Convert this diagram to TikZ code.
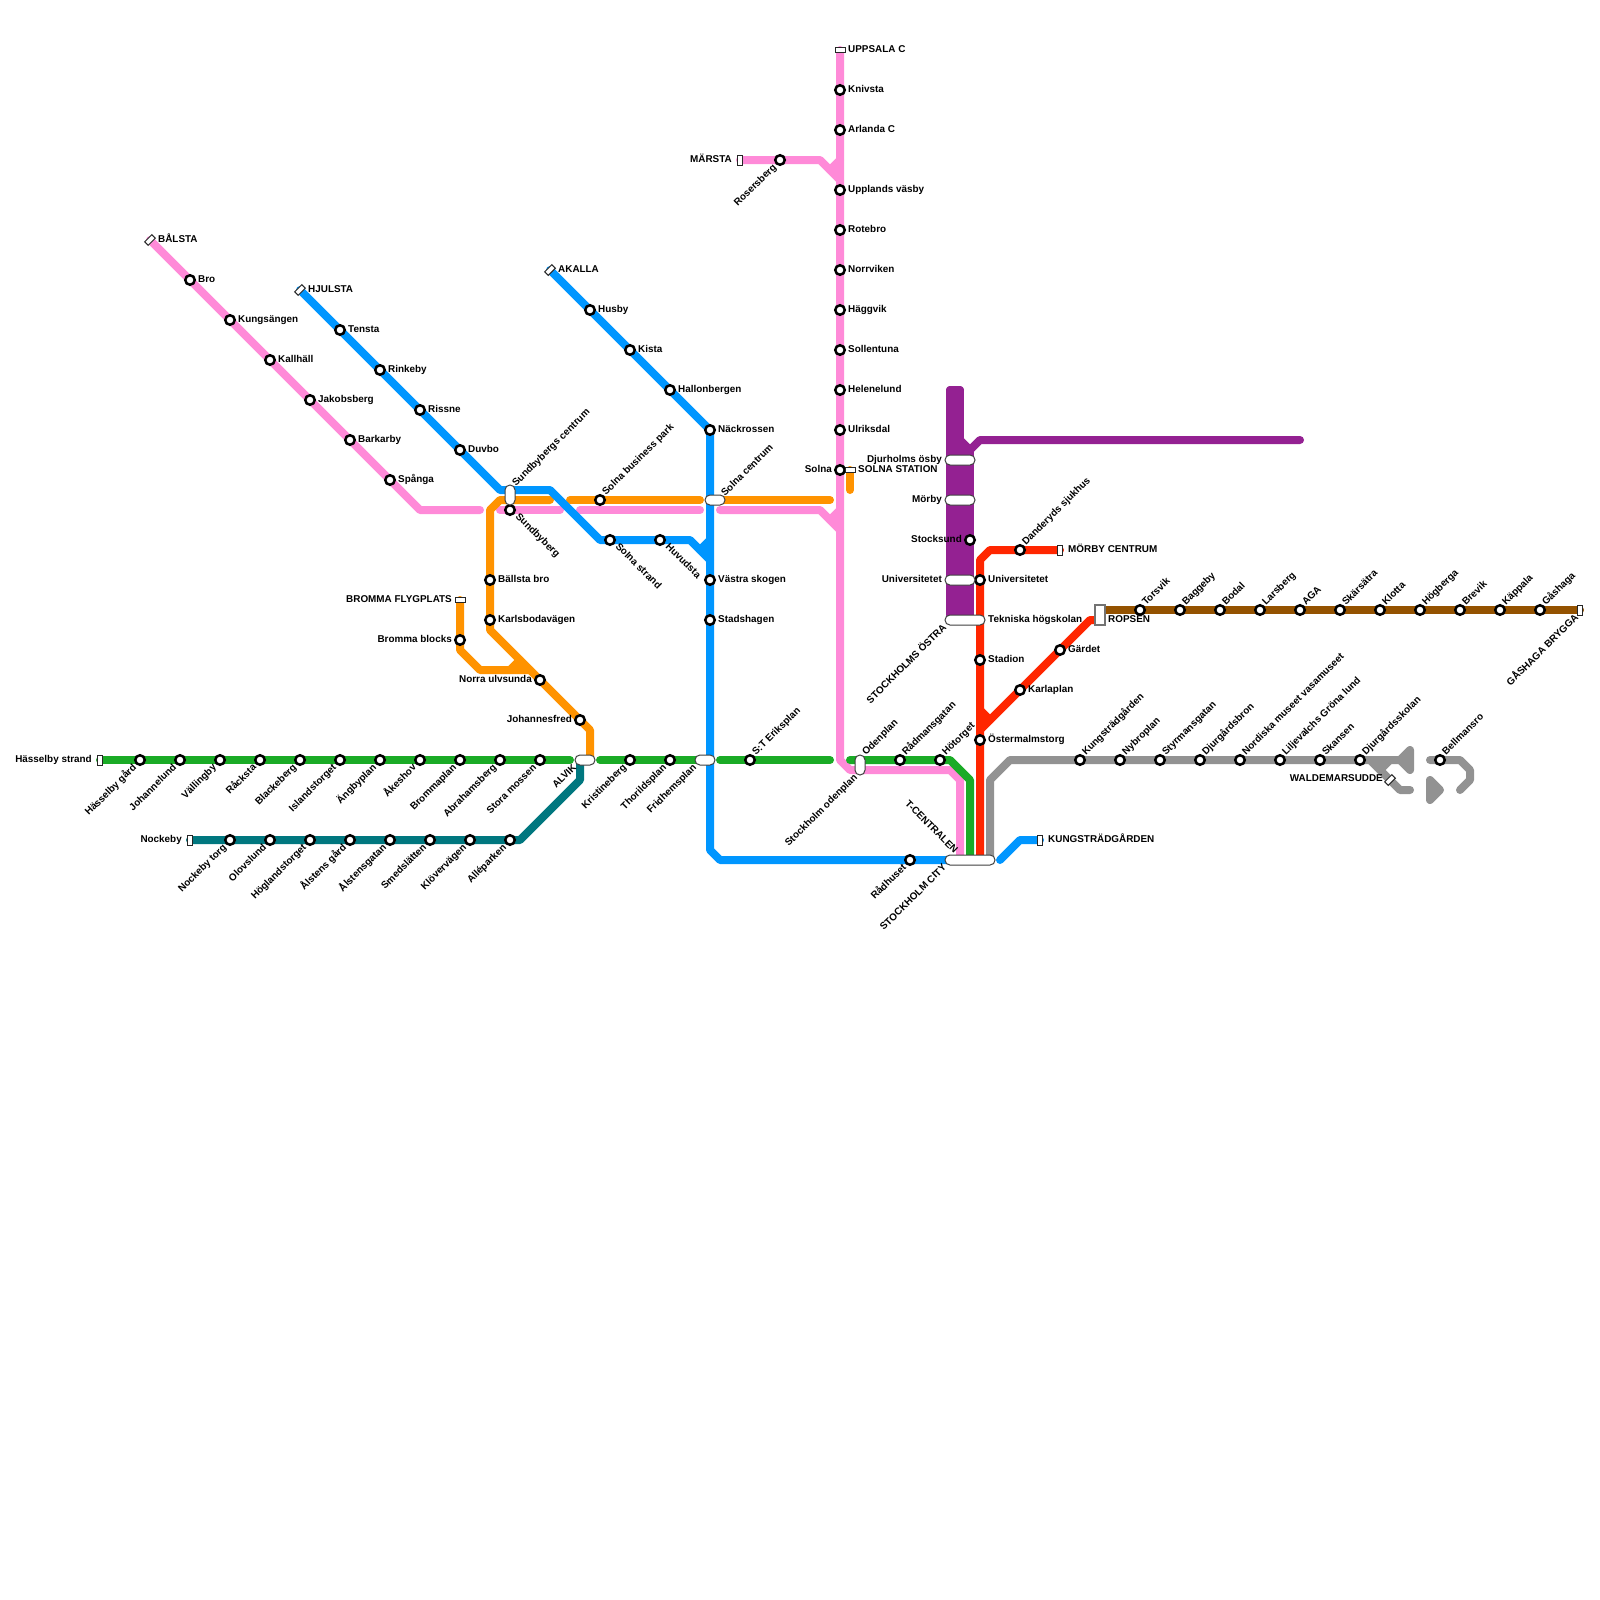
\documentclass[tikz,border=0pt]{standalone}
\usepackage{fontspec}
\newfontfamily\mapfont{Liberation Sans}
\usetikzlibrary{calc}
\pgfdeclarelayer{bg}\pgfsetlayers{bg,main}
\definecolor{cpink}{HTML}{FF8AD8}
\definecolor{cblue}{HTML}{0096FF}
\definecolor{corange}{HTML}{FF9300}
\definecolor{cgreen}{HTML}{1AAB26}
\definecolor{cteal}{HTML}{00777F}
\definecolor{cplum}{HTML}{942192}
\definecolor{cred}{HTML}{FF2600}
\definecolor{cgray}{HTML}{929292}
\definecolor{cbrown}{HTML}{945200}
\tikzset{
  trk/.style={line width=8pt,line cap=round,line join=round},
  stn/.style={circle,draw=black,fill=white,line width=2.5pt,minimum size=9.5pt,inner sep=0pt},
  ich/.style={rectangle,rounded corners=4.9pt,draw=black!75,fill=white,line width=1pt,inner sep=0pt},
  wide/.style={minimum width=#1pt,minimum height=10pt},
  tall/.style={minimum width=10pt,minimum height=#1pt},
  term/.style={rectangle,draw=black!85,fill=white,line width=1pt,inner sep=0pt},
  termV/.style={term,minimum width=5pt,minimum height=10pt},
  termH/.style={term,minimum width=10pt,minimum height=5pt},
  termD/.style={term,minimum width=10pt,minimum height=5pt,rotate=45},
  txt/.style={inner sep=0pt,text height=7.5pt,text depth=2pt,font=\mapfont\bfseries\fontsize{9.9}{12}\selectfont,text=black},
  lbR/.style={txt,anchor=west},
  lbL/.style={txt,anchor=east},
  lbU/.style={txt,rotate=45,anchor=west},
  lbD/.style={txt,rotate=45,anchor=east},
  lbE/.style={txt,rotate=-45,anchor=west},
  lbW/.style={txt,rotate=-45,anchor=east},
  shR/.style={xshift=8pt,yshift=0.3pt},
  shL/.style={xshift=-8pt,yshift=0.3pt},
  shU/.style={xshift=4pt,yshift=6pt},
  shD/.style={xshift=-5pt,yshift=-6pt},
  shE/.style={xshift=7pt,yshift=-5pt},
  shW/.style={xshift=-7pt,yshift=5pt},
}
\newcommand\St[5]{\node[stn] (#1) at (#2,#3) {}; \node[sh#4,lb#4] (#1-l) at (#1.center) {#5};}
\newcommand\Tm[6]{\node[term#4] (#1) at (#2,#3) {}; \node[sh#5,lb#5] (#1-l) at (#1.center) {#6};}
\newcommand\Lb[5]{\node[lb#4] (#1) at (#2,#3) {#5};}
\begin{document}
\begin{tikzpicture}[x=1pt,y=-1pt]
\useasboundingbox (0,0) rectangle (1600,1600);

% ---- stations: green
\Tm{hstr}{100}{760}{V}{L}{Hässelby strand}
\St{hgrd}{140}{760}{D}{Hässelby gård}
\St{jlund}{180}{760}{D}{Johannelund}
\St{vall}{220}{760}{D}{Vällingby}
\St{rack}{260}{760}{D}{Råcksta}
\St{blac}{300}{760}{D}{Blackeberg}
\St{isla}{340}{760}{D}{Islandstorget}
\St{angb}{380}{760}{D}{Ängbyplan}
\St{akes}{420}{760}{D}{Åkeshov}
\St{brom}{460}{760}{D}{Brommaplan}
\St{abra}{500}{760}{D}{Abrahamsberg}
\St{stom}{540}{760}{D}{Stora mossen}
\St{kris}{630}{760}{D}{Kristineberg}
\St{thor}{670}{760}{D}{Thorildsplan}
\St{ster}{750}{760}{U}{S:T Eriksplan}
\St{radm}{900}{760}{U}{Rådmansgatan}
\St{hotg}{940}{760}{U}{Hötorget}
% teal
\Tm{nock}{190}{840}{V}{L}{Nockeby}
\St{ntorg}{230}{840}{D}{Nockeby torg}
\St{olov}{270}{840}{D}{Olovslund}
\St{hogl}{310}{840}{D}{Höglandstorget}
\St{agrd}{350}{840}{D}{Ålstens gård}
\St{agat}{390}{840}{D}{Ålstensgatan}
\St{smed}{430}{840}{D}{Smedslätten}
\St{klov}{470}{840}{D}{Klövervägen}
\St{alle}{510}{840}{D}{Alléparken}
% pink
\Tm{bals}{150}{240}{D}{R}{BÅLSTA}
\St{bro}{190}{280}{R}{Bro}
\St{kung}{230}{320}{R}{Kungsängen}
\St{kall}{270}{360}{R}{Kallhäll}
\St{jako}{310}{400}{R}{Jakobsberg}
\St{bark}{350}{440}{R}{Barkarby}
\St{span}{390}{480}{R}{Spånga}
\St{sund}{510}{510}{E}{Sundbyberg}
\Tm{upps}{840}{50}{H}{R}{UPPSALA C}
\St{kniv}{840}{90}{R}{Knivsta}
\St{arla}{840}{130}{R}{Arlanda C}
\St{uvas}{840}{190}{R}{Upplands väsby}
\St{rote}{840}{230}{R}{Rotebro}
\St{norr}{840}{270}{R}{Norrviken}
\St{hagg}{840}{310}{R}{Häggvik}
\St{soll}{840}{350}{R}{Sollentuna}
\St{hele}{840}{390}{R}{Helenelund}
\St{ulri}{840}{430}{R}{Ulriksdal}
\St{solna}{840}{470}{L}{Solna}
\Tm{mars}{740}{160}{V}{L}{MÄRSTA}
\St{rose}{780}{160}{D}{Rosersberg}
% blue
\Tm{hjul}{300}{290}{D}{R}{HJULSTA}
\St{tens}{340}{330}{R}{Tensta}
\St{rink}{380}{370}{R}{Rinkeby}
\St{riss}{420}{410}{R}{Rissne}
\St{duvb}{460}{450}{R}{Duvbo}
\St{sstr}{610}{540}{E}{Solna strand}
\St{huvu}{660}{540}{E}{Huvudsta}
\Tm{akal}{550}{270}{D}{R}{AKALLA}
\St{husb}{590}{310}{R}{Husby}
\St{kist}{630}{350}{R}{Kista}
\St{hall}{670}{390}{R}{Hallonbergen}
\St{nack}{710}{430}{R}{Näckrossen}
\St{vsko}{710}{580}{R}{Västra skogen}
\St{stad}{710}{620}{R}{Stadshagen}
\St{radh}{910}{860}{D}{Rådhuset}
\Tm{ktrd}{1040}{840}{V}{R}{KUNGSTRÄDGÅRDEN}
% orange
\St{sbpk}{600}{500}{U}{Solna business park}
\St{ball}{490}{580}{R}{Bällsta bro}
\St{karl}{490}{620}{R}{Karlsbodavägen}
\St{nulv}{540}{680}{L}{Norra ulvsunda}
\St{joha}{580}{720}{L}{Johannesfred}
\Tm{bflg}{460}{600}{H}{L}{BROMMA FLYGPLATS}
\St{bblk}{460}{640}{L}{Bromma blocks}
\Tm{sost}{850}{470}{H}{R}{SOLNA STATION}
% red
\Tm{mocn}{1060}{550}{V}{R}{MÖRBY CENTRUM}
\St{dand}{1020}{550}{U}{Danderyds sjukhus}
\St{unir}{980}{580}{R}{Universitetet}
\St{stdn}{980}{660}{R}{Stadion}
\St{oste}{980}{740}{R}{Östermalmstorg}
\St{gard}{1060}{650}{R}{Gärdet}
\St{karp}{1020}{690}{R}{Karlaplan}
% plum
\St{stoc}{970}{540}{L}{Stocksund}
% brown
\St{tors}{1140}{610}{U}{Torsvik}
\St{bagg}{1180}{610}{U}{Baggeby}
\St{boda}{1220}{610}{U}{Bodal}
\St{lars}{1260}{610}{U}{Larsberg}
\St{aga}{1300}{610}{U}{AGA}
\St{skar}{1340}{610}{U}{Skärsätra}
\St{klot}{1380}{610}{U}{Klotta}
\St{hogb}{1420}{610}{U}{Högberga}
\St{brev}{1460}{610}{U}{Brevik}
\St{kapp}{1500}{610}{U}{Käppala}
\St{gash}{1540}{610}{U}{Gåshaga}
\node[termV] (gbry) at (1580,610) {};
\Lb{gbry-l}{1577}{616}{D}{GÅSHAGA BRYGGA}
% gray
\St{ktg}{1080}{760}{U}{Kungsträdgården}
\St{nybr}{1120}{760}{U}{Nybroplan}
\St{styr}{1160}{760}{U}{Styrmansgatan}
\St{djbr}{1200}{760}{U}{Djurgårdsbron}
\St{nord}{1240}{760}{U}{Nordiska museet vasamuseet}
\St{lilj}{1280}{760}{U}{Liljevalchs Gröna lund}
\St{skan}{1320}{760}{U}{Skansen}
\St{djsk}{1360}{760}{U}{Djurgårdsskolan}
\St{bell}{1440}{760}{U}{Bellmansro}
\node[termD] (wald) at (1390,780) {};
\Lb{wald-l}{1383}{779}{L}{WALDEMARSUDDE}

% ---- interchanges
\node[ich,tall=20] (sbgc) at (510,495) {};
\Lb{sbgc-l}{514}{485}{U}{Sundbybergs centrum}
\node[ich,wide=20] (soce) at (715,500) {};
\Lb{soce-l}{723}{495}{U}{Solna centrum}
\node[ich,wide=20] (alvk) at (585,760) {};
\Lb{alvk-l}{575}{766}{D}{ALVIK}
\node[ich,wide=20] (frid) at (705,760) {};
\Lb{frid-l}{695}{766}{D}{Fridhemsplan}
\node[ich,tall=20] (oden) at (860,765) {};
\Lb{oden-u}{864}{754}{U}{Odenplan}
\Lb{oden-d}{856}{776}{D}{Stockholm odenplan}
\node[ich,wide=30] (djur) at (960,460) {};
\Lb{djur-l}{942}{459.7}{L}{Djurholms ösby}
\node[ich,wide=30] (morb) at (960,500) {};
\Lb{morb-l}{942}{499.7}{L}{Mörby}
\node[ich,wide=30] (univ) at (960,580) {};
\Lb{univ-l}{942}{579.7}{L}{Universitetet}
\node[ich,wide=40] (tekn) at (965,620) {};
\Lb{tekn-l}{988}{619.7}{R}{Tekniska högskolan}
\Lb{sost-o}{945}{626}{D}{STOCKHOLMS ÖSTRA}
\node[ich,wide=50] (tcen) at (970,860) {};
\Lb{tcen-l}{956}{852}{W}{T-CENTRALEN}
\Lb{tcen-c}{945}{866}{D}{STOCKHOLM CITY}
\node[rectangle,draw=black!55,fill=white,line width=1.5pt,inner sep=0pt,minimum width=10pt,minimum height=20pt] (rops) at (1100,615) {};
\Lb{rops-l}{1108}{619.7}{R}{ROPSEN}

% ---- corners
\coordinate (c1) at (420,510); \coordinate (c2) at (480,510);
\coordinate (c3) at (500,510); \coordinate (c4) at (560,510);
\coordinate (c5) at (580,510); \coordinate (c6) at (700,510);
\coordinate (c7) at (720,510); \coordinate (c8) at (820,510);
\coordinate (c9) at (840,530); \coordinate (c10) at (830,520); \coordinate (c11) at (840,510);
\coordinate (c12) at (820,160); \coordinate (c13) at (840,180); \coordinate (c14) at (830,170); \coordinate (c15) at (840,160);
\coordinate (c16) at (840,760); \coordinate (c17) at (850,770); \coordinate (c18) at (950,770);
\coordinate (c19) at (960,780); \coordinate (c20) at (960,860);
\begin{pgfonlayer}{bg}
\fill[white] (0,0) rectangle (1600,1600);
% pink
\draw[trk,cpink] (bals.center) -- (span.center) -- (c1) -- (c2);
\draw[trk,cpink] (c3) -- (c4);
\draw[trk,cpink] (c5) -- (c6);
\draw[trk,cpink] (c7) -- (c8) -- (c9);
\draw[trk,cpink] (c10) -- (c11);
\draw[trk,cpink] (mars.center) -- (c12) -- (c13);
\draw[trk,cpink] (c14) -- (c15);
\draw[trk,cpink] (upps.center) -- (c16) -- (c17) -- (c18) -- (c19) -- (c20);
% green
\draw[trk,cgreen] (hstr.center) -- (570,760);
\draw[trk,cgreen] (600,760) -- (700,760);
\draw[trk,cgreen] (720,760) -- (830,760);
\draw[trk,cgreen] (850,760) -- (950,760) -- (970,780) -- (970,860);
% teal
\draw[trk,cteal] (nock.center) -- (520,840) -- (580,780) -- (580,760);
% orange
\draw[trk,corange] (550,500) -- (500,500) -- (490,510) -- (490,630) -- (nulv.center) -- (joha.center) -- (590,730) -- (590,760);
\draw[trk,corange] (570,500) -- (700,500);
\draw[trk,corange] (720,500) -- (830,500);
\draw[trk,corange] (bflg.center) -- (460,650) -- (480,670) -- (530,670);
\draw[trk,corange] (510,670) -- (520,660);
\draw[trk,corange] (sost.center) -- (850,490);
% blue
\draw[trk,cblue] (hjul.center) -- (500,490) -- (550,490) -- (600,540) -- (690,540) -- (710,560);
\draw[trk,cblue] (700,550) -- (710,540);
\draw[trk,cblue] (akal.center) -- (nack.center) -- (710,850) -- (720,860) -- (950,860);
\draw[trk,cblue] (1000,860) -- (1020,840) -- (ktrd.center);
% plum
\draw[trk,cplum] (950,390) -- (960,390);
\draw[trk,cplum] (950,390) -- (950,615);
\draw[trk,cplum] (955,390) -- (955,615);
\draw[trk,cplum] (960,390) -- (960,615);
\draw[trk,cplum] (965,450) -- (965,615);
\draw[trk,cplum] (970,450) -- (970,615);
\draw[trk,cplum] (960,440) -- (970,450) -- (980,440) -- (1300,440);
% red
\draw[trk,cred] (mocn.center) -- (990,550) -- (980,560) -- (980,860);
\draw[trk,cred] (1100,620) -- (1090,620) -- (980,730);
\draw[trk,cred] (990,720) -- (980,710);
% brown
\draw[trk,cbrown] (rops.center |- tors.center) -- (gbry.center);
% gray
\draw[trk,cgray] (990,860) -- (990,780) -- (1010,760) -- (1400,760);
\draw[trk,cgray,fill=cgray] (1400,760) -- (1410,750) -- (1410,770) -- cycle;
\draw[trk,cgray] (1370,760) -- (1400,790) -- (1410,790);
\draw[trk,cgray] (1380,770) -- (1390,760);
\draw[trk,cgray,fill=cgray] (1430,780) -- (1440,790) -- (1430,800) -- cycle;
\draw[trk,cgray] (1430,760) -- (1460,760) -- (1470,770) -- (1470,780) -- (1460,790);
\end{pgfonlayer}
\end{tikzpicture}
\end{document}
